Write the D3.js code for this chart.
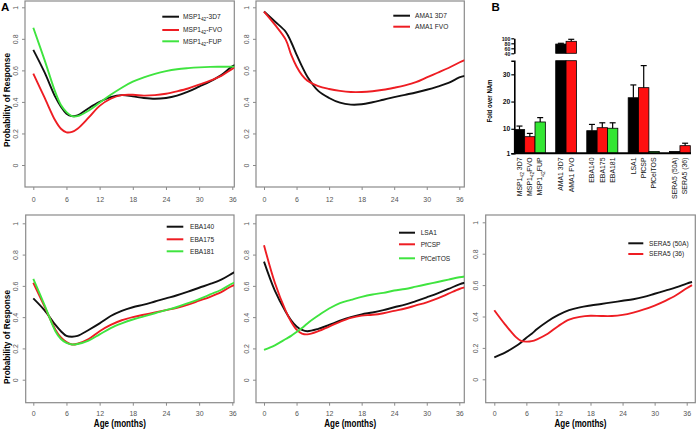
<!DOCTYPE html>
<html><head><meta charset="utf-8">
<script src="https://cdn.jsdelivr.net/npm/d3@7"></script>
<style>
body{margin:0;background:#fff}
svg{display:block;font-family:Arial,"Liberation Sans",sans-serif}
</style>
</head><body>
<svg id="c" width="696" height="429"></svg>
<script>
// ---------- DATA ----------
const ages   = [0,2,4,5,6,7,8,10,12,14,16,18,20,22,24,26,28,30,32,34,36,37];
const xTicks = [0,6,12,18,24,30,36];
const yTicks = [0,0.2,0.4,0.6,0.8,1];

const msp3D7 = [0.73,0.59,0.43,0.37,0.325,0.31,0.315,0.36,0.40,0.43,0.443,0.435,0.425,0.42,0.425,0.44,0.465,0.497,0.53,0.57,0.625,0.64];
const mspFVO = [0.58,0.43,0.28,0.23,0.207,0.21,0.23,0.30,0.375,0.42,0.443,0.445,0.44,0.443,0.452,0.467,0.485,0.51,0.535,0.565,0.61,0.625];
const mspFUP = [0.87,0.67,0.46,0.38,0.335,0.31,0.31,0.345,0.395,0.445,0.49,0.528,0.556,0.578,0.595,0.607,0.614,0.619,0.622,0.623,0.624,0.624];

const ama3D7 = [0.973,0.91,0.845,0.78,0.70,0.625,0.56,0.47,0.425,0.395,0.383,0.385,0.398,0.414,0.43,0.445,0.46,0.477,0.497,0.52,0.555,0.565];
const amaFVO = [0.973,0.89,0.795,0.70,0.625,0.57,0.535,0.50,0.482,0.47,0.463,0.463,0.468,0.477,0.49,0.505,0.525,0.555,0.585,0.615,0.65,0.665];

const eba140 = [0.52,0.445,0.35,0.31,0.28,0.275,0.28,0.318,0.36,0.407,0.44,0.463,0.48,0.50,0.52,0.54,0.563,0.588,0.612,0.64,0.68,0.70];
const eba175 = [0.62,0.47,0.32,0.27,0.24,0.225,0.23,0.26,0.31,0.35,0.38,0.40,0.415,0.43,0.445,0.46,0.48,0.505,0.53,0.56,0.60,0.61];
const eba181 = [0.645,0.48,0.31,0.26,0.235,0.225,0.228,0.25,0.29,0.33,0.36,0.385,0.405,0.425,0.445,0.465,0.49,0.515,0.545,0.575,0.615,0.63];

const lsa1     = [0.755,0.57,0.435,0.38,0.34,0.318,0.31,0.325,0.35,0.377,0.40,0.418,0.43,0.445,0.463,0.48,0.503,0.527,0.552,0.58,0.61,0.62];
const pfcsp    = [0.86,0.62,0.44,0.37,0.32,0.295,0.29,0.31,0.34,0.37,0.395,0.41,0.415,0.425,0.44,0.455,0.475,0.495,0.52,0.55,0.58,0.59];
const pfceltos = [0.19,0.22,0.26,0.28,0.305,0.33,0.36,0.41,0.455,0.49,0.51,0.53,0.545,0.555,0.57,0.58,0.595,0.61,0.625,0.64,0.655,0.66];

const sera50A = [0.14,0.17,0.21,0.235,0.265,0.29,0.32,0.37,0.41,0.44,0.458,0.47,0.48,0.49,0.50,0.51,0.525,0.545,0.565,0.585,0.61,0.62];
const sera36  = [0.44,0.35,0.27,0.245,0.24,0.243,0.255,0.29,0.34,0.38,0.398,0.405,0.403,0.403,0.41,0.425,0.445,0.47,0.50,0.535,0.58,0.60];

// bar chart (panel B)
const barCats   = ["MSP1₄₂ 3D7","MSP1₄₂FVO","MSP1₄₂FUP","AMA1  3D7","AMA1  FVO","EBA140","EBA175","EBA181","LSA1","PfCSP","PfCelTOS","SERA5 (50A)","SERA5 (36)"];
const barGroups = [0,0,0,1,1,2,2,2,3,3,3,4,4];
const barValues = [9.7,7.1,12.5,77,88,9.3,10.4,10.2,21.4,25.1,1.7,1.7,3.8];
const barErrHi  = [11.0,8.3,14.1,80,96,11.6,12.2,12.2,26.1,33.2,null,null,4.7];
const barColorKey = ["k","r","g","k","r","k","r","g","k","r","g","k","r"];
const barLowTicks  = [1,10,20,30];
const barHighTicks = [40,60,80,100];

// ---------- STYLE ----------
const COL = {k:"#111111", r:"#ee1d23", g:"#3fe43f"};
const BARCOL = {k:"#000000", r:"#ff1010", g:"#33e633"};
const FRAME = "#8a8a8a";

const svg = d3.select("#c");

function richText(sel, name, fs){
  const parts = name.split(/(₄₂)/).filter(p=>p!=="");
  let shifted = false;
  parts.forEach(p=>{
    if(p==="₄₂"){
      sel.append("tspan").attr("font-size",fs*0.72).attr("dy",fs*0.3).text("42");
      shifted = true;
    } else {
      const t = sel.append("tspan").text(p);
      if(shifted){ t.attr("dy",-fs*0.3); shifted=false; }
    }
  });
}

// ---------- LINE PANELS ----------
const panels = [
  {f:{l:25,r:234.3,t:1,b:187}, xr:[33.3,232.3], yr:[165,7.3], bottom:false, ylab:100,
   series:[["MSP1₄₂-3D7",msp3D7,"k"],["MSP1₄₂-FVO",mspFVO,"r"],["MSP1₄₂-FUP",mspFUP,"g"]],
   leg:{x1:162.3,x2:179,tx:183,ys:[16.7,30,41.3]}},
  {f:{l:256,r:464.3,t:1,b:187}, xr:[264,459.3], yr:[165,7.3], bottom:false, ylab:null,
   series:[["AMA1  3D7",ama3D7,"k"],["AMA1  FVO",amaFVO,"r"]],
   leg:{x1:393.3,x2:410,tx:415,ys:[15.7,26.7]}},
  {f:{l:25.7,r:234,t:215,b:402.7}, xr:[33.3,232.3], yr:[379.7,223.3], bottom:true, ylab:337,
   series:[["EBA140",eba140,"k"],["EBA175",eba175,"r"],["EBA181",eba181,"g"]],
   leg:{x1:166.7,x2:183.3,tx:190,ys:[226.7,239.3,251.3]}},
  {f:{l:256,r:464.3,t:215,b:402.7}, xr:[264,459.3], yr:[379.7,223.3], bottom:true, ylab:null,
   series:[["LSA1",lsa1,"k"],["PfCSP",pfcsp,"r"],["PfCelTOS",pfceltos,"g"]],
   leg:{x1:399,x2:415,tx:420.7,ys:[232.7,244.3,258.3]}},
  {f:{l:485.7,r:695.3,t:215,b:402.7}, xr:[494.3,686.7], yr:[379.3,222.3], bottom:true, ylab:null,
   series:[["SERA5 (50A)",sera50A,"k"],["SERA5 (36)",sera36,"r"]],
   leg:{x1:628.3,x2:643.3,tx:649,ys:[243.3,254]}}
];

panels.forEach((p,pi)=>{
  const x = d3.scaleLinear().domain([0,36]).range(p.xr);
  const y = d3.scaleLinear().domain([0,1]).range(p.yr);
  const g = svg.append("g");
  const cid = "clip"+pi;
  svg.append("clipPath").attr("id",cid).append("rect")
    .attr("x",p.f.l).attr("y",p.f.t).attr("width",p.f.r-p.f.l).attr("height",p.f.b-p.f.t);

  const ya = g.append("g").attr("transform",`translate(${p.f.l},0)`)
    .call(d3.axisLeft(y).tickValues(yTicks).tickSize(3).tickSizeOuter(0)
      .tickFormat(d=> d===0?"0":d===1?"1":String(d)));
  ya.select(".domain").remove();
  ya.selectAll(".tick line").attr("stroke",FRAME);
  ya.selectAll(".tick text").attr("transform","rotate(-90)").attr("x",0).attr("y",-7.5)
    .attr("dy",0).attr("text-anchor","middle").attr("fill","#555").attr("font-size",7)
    .attr("font-family","Arial,'Liberation Sans',sans-serif");

  const xa = g.append("g").attr("transform",`translate(0,${p.f.b})`)
    .call(d3.axisBottom(x).tickValues(xTicks).tickSize(3).tickSizeOuter(0));
  xa.select(".domain").remove();
  xa.selectAll(".tick line").attr("stroke",FRAME);
  xa.selectAll(".tick text").attr("y", p.bottom?8.5:10).attr("fill","#555").attr("font-size",7)
    .attr("font-family","Arial,'Liberation Sans',sans-serif");

  g.append("rect").attr("x",p.f.l).attr("y",p.f.t).attr("width",p.f.r-p.f.l).attr("height",p.f.b-p.f.t)
    .attr("fill","none").attr("stroke",FRAME).attr("stroke-width",1.2);

  const line = d3.line().x((d,i)=>x(ages[i])).y(d=>y(d)).curve(d3.curveCatmullRom.alpha(0.5));
  const lg = g.append("g").attr("clip-path",`url(#${cid})`);
  p.series.forEach(s=>{
    lg.append("path").attr("d",line(s[1])).attr("fill","none")
      .attr("stroke",COL[s[2]]).attr("stroke-width",1.9).attr("stroke-linejoin","round");
  });

  p.series.forEach((s,i)=>{
    const yy = p.leg.ys[i];
    g.append("line").attr("x1",p.leg.x1).attr("x2",p.leg.x2).attr("y1",yy).attr("y2",yy)
      .attr("stroke",COL[s[2]]).attr("stroke-width",2);
    const t = g.append("text").attr("x",p.leg.tx).attr("y",yy+2.3).attr("font-size",6.6).attr("fill","#222");
    richText(t,s[0],6.6);
  });

  if(p.ylab!==null){
    g.append("text").attr("transform",`translate(10,${p.ylab}) rotate(-90)`)
      .attr("text-anchor","middle").attr("font-weight","bold").attr("font-size",9.5)
      .attr("textLength",94).attr("lengthAdjust","spacingAndGlyphs")
      .text("Probability of Response");
  }
  if(p.bottom){
    const cx = (p.f.l+p.f.r)/2 - 10;
    g.append("text").attr("x",cx).attr("y",426.5).attr("text-anchor","middle")
      .attr("font-weight","bold").attr("font-size",10)
      .attr("textLength",52).attr("lengthAdjust","spacingAndGlyphs")
      .text("Age (months)");
  }
});

svg.append("text").attr("x",1).attr("y",10.5).attr("font-weight","bold").attr("font-size",11.5).text("A");
svg.append("text").attr("x",491.5).attr("y",11).attr("font-weight","bold").attr("font-size",11.5).text("B");

// ---------- BAR CHART ----------
const slots = barCats.map((c,i)=> i + barGroups[i]);
const bx = d3.scaleBand().domain(d3.range(d3.max(slots)+1)).range([514.3,690.3]).paddingInner(0);
const yLow  = d3.scaleLinear().domain([1,35]).range([153.3,60.7]);
const yHigh = d3.scaleLinear().domain([40,100]).range([53.3,38.3]);
const B = svg.append("g");

barValues.forEach((v,i)=>{
  const x0 = bx(slots[i]), w = bx.bandwidth();
  const fill = BARCOL[barColorKey[i]];
  const segs = v<=35 ? [[yLow(v),yLow(1)]] : [[yLow(35),yLow(1)],[yHigh(v),yHigh(40)]];
  segs.forEach(s=>{
    B.append("rect").attr("x",x0).attr("y",s[0]).attr("width",w).attr("height",s[1]-s[0])
      .attr("fill",fill).attr("stroke","#000").attr("stroke-width",0.8);
  });
  const e = barErrHi[i];
  if(e!==null){
    const yt = v>35 ? yHigh(v) : yLow(v);
    const ye = e>35 ? yHigh(e) : yLow(e);
    const cx = x0 + w/2;
    B.append("line").attr("x1",cx).attr("x2",cx).attr("y1",yt).attr("y2",ye).attr("stroke","#000").attr("stroke-width",1.2);
    B.append("line").attr("x1",cx-3).attr("x2",cx+3).attr("y1",ye).attr("y2",ye).attr("stroke","#000").attr("stroke-width",1.2);
  }
  const t = B.append("text").attr("transform",`translate(${x0+w/2+2.3},157.5) rotate(-90)`)
    .attr("text-anchor","end").attr("font-size",6.9).attr("fill","#111");
  richText(t,barCats[i],6.9);
});

B.append("line").attr("x1",514.3).attr("x2",691).attr("y1",153.3).attr("y2",153.3).attr("stroke","#000").attr("stroke-width",2);

const la = B.append("g").attr("transform","translate(514.3,0)")
  .call(d3.axisLeft(yLow).tickValues(barLowTicks).tickSize(3).tickSizeOuter(3));
const ha = B.append("g").attr("transform","translate(514.3,0)")
  .call(d3.axisLeft(yHigh).tickValues(barHighTicks).tickSize(3).tickSizeOuter(0));
[la,ha].forEach(a=>{
  a.select(".domain").attr("stroke","#000").attr("stroke-width",1.6);
  a.selectAll(".tick line").attr("stroke","#000").attr("stroke-width",1.2);
  a.selectAll(".tick text").attr("font-weight","bold").attr("fill","#111")
    .attr("font-family","Arial,'Liberation Sans',sans-serif").attr("x",-4);
});
la.selectAll(".tick text").attr("font-size",6.8);
ha.selectAll(".tick text").attr("font-size",5.2).attr("dy","0.35em");

B.append("text").attr("transform","translate(492,101) rotate(-90)").attr("text-anchor","middle")
  .attr("font-weight","bold").attr("font-size",7.5).attr("textLength",43).attr("lengthAdjust","spacingAndGlyphs")
  .text("Fold over NAm");
</script>
</body></html>
